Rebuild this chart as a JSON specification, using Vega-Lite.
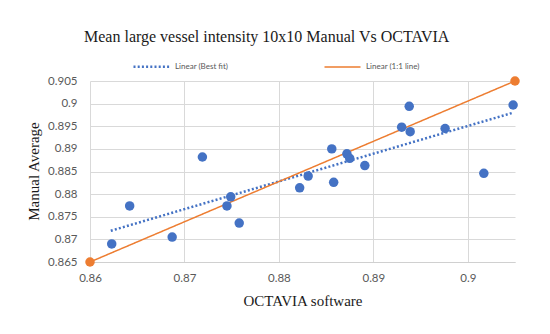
{
  "$schema": "https://vega.github.io/schema/vega-lite/v6.json",
  "width": 425,
  "height": 181,
  "autosize": {"type": "none"},
  "padding": {"left": 90, "top": 81, "right": 35, "bottom": 72},
  "background": "white",
  "title": {
    "text": "Mean large vessel intensity 10x10 Manual Vs OCTAVIA",
    "font": "Liberation Serif",
    "fontSize": 16,
    "fontWeight": "normal",
    "color": "#1a1a1a",
    "anchor": "start",
    "frame": "group",
    "dx": -6,
    "offset": 2
  },
  "data": {
    "values": [
      {"x": 0.8623, "y": 0.8690, "series": "points"},
      {"x": 0.8642, "y": 0.8774, "series": "points"},
      {"x": 0.8687, "y": 0.8705, "series": "points"},
      {"x": 0.8719, "y": 0.8882, "series": "points"},
      {"x": 0.8745, "y": 0.8774, "series": "points"},
      {"x": 0.8749, "y": 0.8794, "series": "points"},
      {"x": 0.8758, "y": 0.8736, "series": "points"},
      {"x": 0.8822, "y": 0.8814, "series": "points"},
      {"x": 0.8831, "y": 0.8840, "series": "points"},
      {"x": 0.8856, "y": 0.8900, "series": "points"},
      {"x": 0.8858, "y": 0.8826, "series": "points"},
      {"x": 0.8872, "y": 0.8889, "series": "points"},
      {"x": 0.8875, "y": 0.8879, "series": "points"},
      {"x": 0.8891, "y": 0.8863, "series": "points"},
      {"x": 0.8930, "y": 0.8948, "series": "points"},
      {"x": 0.8938, "y": 0.8994, "series": "points"},
      {"x": 0.8939, "y": 0.8938, "series": "points"},
      {"x": 0.8976, "y": 0.8945, "series": "points"},
      {"x": 0.9017, "y": 0.8846, "series": "points"},
      {"x": 0.9048, "y": 0.8997, "series": "points"},
      {"x": 0.8622, "y": 0.8719, "series": "Linear (Best fit)"},
      {"x": 0.9048, "y": 0.8980, "series": "Linear (Best fit)"},
      {"x": 0.86, "y": 0.865, "series": "Linear (1:1 line)"},
      {"x": 0.905, "y": 0.905, "series": "Linear (1:1 line)"}
    ]
  },
  "encoding": {
    "x": {
      "field": "x",
      "type": "quantitative",
      "scale": {"domain": [0.86, 0.905], "nice": false, "zero": false},
      "axis": {
        "title": "OCTAVIA software",
        "values": [0.86, 0.87, 0.88, 0.89, 0.9],
        "format": "~g",
        "labelFlush": false,
        "grid": true,
        "gridColor": "#d9d9d9",
        "domainColor": "#d0d0d0",
        "ticks": false,
        "labelPadding": 10,
        "labelFont": "Lato",
        "labelFontSize": 11.5,
        "labelColor": "#595959",
        "titleFont": "Liberation Serif",
        "titleFontSize": 15,
        "titleFontWeight": "normal",
        "titleColor": "#1a1a1a",
        "titleY": 38,
        "titleBaseline": "middle"
      }
    },
    "y": {
      "field": "y",
      "type": "quantitative",
      "scale": {"domain": [0.865, 0.905], "nice": false, "zero": false},
      "axis": {
        "title": "Manual Average",
        "values": [0.865, 0.87, 0.875, 0.88, 0.885, 0.89, 0.895, 0.9, 0.905],
        "format": "~g",
        "labelFlush": false,
        "grid": true,
        "gridColor": "#d9d9d9",
        "domain": false,
        "ticks": false,
        "labelPadding": 13,
        "labelFont": "Lato",
        "labelFontSize": 11.5,
        "labelColor": "#595959",
        "titleFont": "Liberation Serif",
        "titleFontSize": 15,
        "titleFontWeight": "normal",
        "titleColor": "#1a1a1a",
        "titleAngle": -90,
        "titleX": -57,
        "titleY": 90,
        "titleAlign": "center",
        "titleBaseline": "middle"
      }
    }
  },
  "layer": [
    {
      "transform": [{"filter": "datum.series !== 'points'"}],
      "mark": {"type": "line"},
      "encoding": {
        "color": {
          "field": "series",
          "type": "nominal",
          "scale": {"domain": ["Linear (Best fit)", "Linear (1:1 line)"], "range": ["#4472c4", "#ed7d31"]},
          "legend": {
            "title": null,
            "orient": "none",
            "direction": "horizontal",
            "legendX": 42,
            "legendY": -34,
            "columns": 2,
            "columnPadding": 92,
            "symbolType": "stroke",
            "symbolSize": 1296,
            "symbolStrokeWidth": 2,
            "labelFont": "Lato",
            "labelFontSize": 8,
            "labelColor": "#595959",
            "labelOffset": 4
          }
        },
        "strokeDash": {
          "field": "series",
          "type": "nominal",
          "scale": {"domain": ["Linear (Best fit)", "Linear (1:1 line)"], "range": [[2, 2.2], [1, 0]]},
          "legend": null
        },
        "strokeWidth": {
          "field": "series",
          "type": "nominal",
          "scale": {"domain": ["Linear (Best fit)", "Linear (1:1 line)"], "range": [2.5, 1.5]},
          "legend": null
        },
        "detail": {"field": "series"}
      }
    },
    {
      "transform": [{"filter": "datum.series === 'points'"}],
      "mark": {"type": "point", "filled": true, "opacity": 1, "color": "#4472c4", "size": 90}
    },
    {
      "transform": [{"filter": "datum.series === 'Linear (1:1 line)'"}],
      "mark": {"type": "point", "filled": true, "opacity": 1, "color": "#ed7d31", "size": 90}
    }
  ],
  "config": {
    "view": {"stroke": null}
  }
}
